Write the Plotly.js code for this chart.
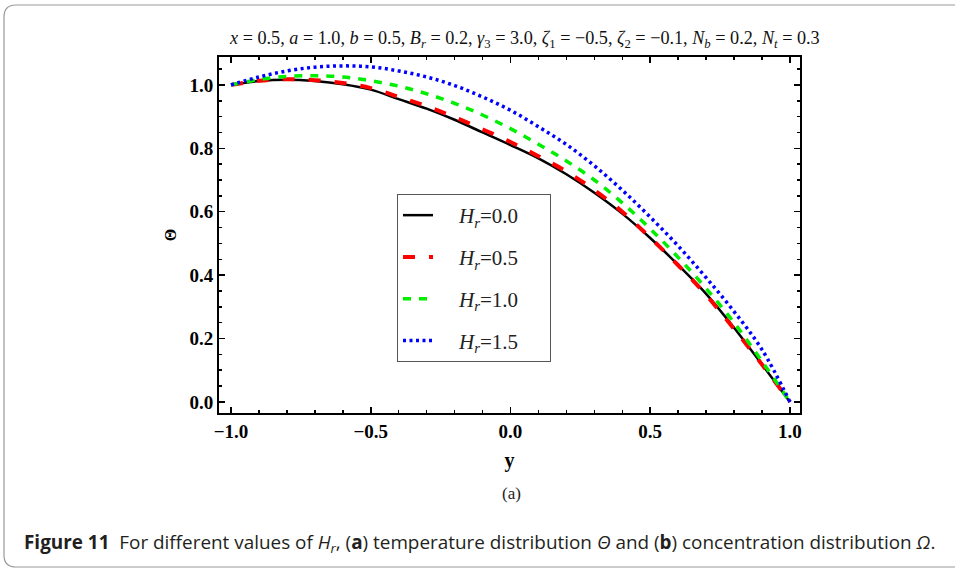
<!DOCTYPE html>
<html><head><meta charset="utf-8">
<script src="https://cdn.plot.ly/plotly-3.0.1.min.js"></script>
<style>html,body{margin:0;padding:0;background:#fff}#chart{width:955px;height:574px}</style>
</head><body><div id="chart"></div>
<script>
// y positions across the channel
const yVals = [-1.0,-0.9,-0.8,-0.7,-0.6,-0.5,-0.4,-0.3,-0.2,-0.1,0.0,0.1,0.2,0.3,0.4,0.5,0.6,0.7,0.8,0.9,1.0];
// temperature Θ for each H_r
const thetaHr00 = [1.000,1.012,1.016,1.012,1.002,0.985,0.955,0.925,0.890,0.850,0.810,0.768,0.718,0.660,0.594,0.517,0.432,0.341,0.234,0.118,0.000];
const thetaHr05 = [1.000,1.013,1.018,1.015,1.006,0.990,0.962,0.933,0.898,0.860,0.820,0.775,0.727,0.668,0.600,0.518,0.431,0.337,0.230,0.118,0.000];
const thetaHr10 = [1.000,1.017,1.027,1.029,1.025,1.013,0.996,0.972,0.942,0.905,0.862,0.813,0.760,0.700,0.628,0.546,0.456,0.358,0.250,0.128,0.000];
const thetaHr15 = [1.000,1.025,1.044,1.056,1.060,1.057,1.044,1.025,0.998,0.962,0.920,0.868,0.812,0.745,0.668,0.583,0.492,0.392,0.285,0.165,0.000];
const seriesNames = ['0.0','0.5','1.0','1.5'];
const xTicks = [-1.0,-0.5,0.0,0.5,1.0];
const yTicks = [0.0,0.2,0.4,0.6,0.8,1.0];

const serif = 'Liberation Serif, Times New Roman, serif';
const styles = [
  {color:'#000000', width:2.5, dash:'solid'},
  {color:'#ff0000', width:4, dash:'12px,14px'},
  {color:'#00ee00', width:3.5, dash:'8px,8px'},
  {color:'#0000ff', width:3.5, dash:'3px,3.5px'}
];
const allY = [thetaHr00, thetaHr05, thetaHr10, thetaHr15];
const nb = '\u00a0';
const traces = allY.map((v,i)=>({
  x: yVals, y: v, type:'scatter', mode:'lines',
  name: nb.repeat(4) + '<i>H</i><sub><i>r</i></sub>=' + seriesNames[i] + nb.repeat(5),
  legendgroup: 'g'+i,
  line: Object.assign({shape:'spline', smoothing:1}, styles[i])
}));

// plot area: left 219, right 800, top 57, bottom 413
const L=219, R=800, T=57, B=413, W=955, H=574;
const pw=R-L, ph=B-T;
const px = p => (p-L)/pw;
const py = p => (B-p)/ph;
const x0=px(4), x1=px(962), y0=py(567), y1=py(5);
const rx=12/pw, ry=12/ph;
const boxPath = `M ${x1},${y1} L ${x0+rx},${y1} Q ${x0},${y1} ${x0},${y1-ry} L ${x0},${y0+ry} Q ${x0},${y0} ${x0+rx},${y0} L ${x1},${y0}`;

const axisCommon = {
  showgrid:false, zeroline:false, showline:true, mirror:'allticks',
  linecolor:'#000', linewidth:2, ticks:'inside', ticklen:6, tickwidth:1.5, tickcolor:'#000',
  tickfont:{family:serif, size:19, color:'#000', weight:'bold'}
};

const layout = {
  width:W, height:H, paper_bgcolor:'#fff', plot_bgcolor:'#fff',
  margin:{l:L, r:W-R, t:T, b:H-B},
  showlegend:true,
  legend:{x:px(397), y:py(194), xanchor:'left', yanchor:'top', bgcolor:'#fff',
    bordercolor:'#555', borderwidth:1, tracegroupgap:11.5,
    font:{family:serif, size:21, color:'#222'}},
  xaxis: Object.assign({}, axisCommon, {
    range:[-1.043,1.036], tickvals:xTicks, ticktext:xTicks.map(v=>(v<0?'\u2212':'')+Math.abs(v).toFixed(1)),
    minor:{dtick:0.1, ticklen:3, tickcolor:'#000', ticks:'inside'},
    title:{text:'<b>y</b>', font:{family:serif, size:20, color:'#000'}, standoff:12}
  }),
  yaxis: Object.assign({}, axisCommon, {
    range:[-0.035,1.088], tickvals:yTicks, ticktext:yTicks.map(v=>v.toFixed(1)),
    minor:{dtick:0.05, ticklen:3, tickcolor:'#000', ticks:'inside'},
    title:{text:'<b>Θ</b>', font:{family:serif, size:16, color:'#000'}, standoff:9}
  }),
  shapes:[{type:'path', xref:'paper', yref:'paper', path:boxPath, line:{color:'#9a9a9a', width:1.2}, layer:'below'}],
  annotations:[
    {xref:'paper', yref:'paper', x:px(524), y:py(39), xanchor:'center', yanchor:'middle', showarrow:false,
     text:'<i>x</i> = 0.5, <i>a</i> = 1.0, <i>b</i> = 0.5, <i>B</i><sub><i>r</i></sub> = 0.2, <i>γ</i><sub>3</sub> = 3.0, <i>ζ</i><sub>1</sub> = −0.5, <i>ζ</i><sub>2</sub> = −0.1, <i>N</i><sub><i>b</i></sub> = 0.2, <i>N</i><sub><i>t</i></sub> = 0.3',
     font:{family:serif, size:18.2, color:'#111'}},
    {xref:'paper', yref:'paper', x:px(511), y:py(493), xanchor:'center', yanchor:'middle', showarrow:false,
     text:'(a)', font:{family:serif, size:17, color:'#222'}},
    {xref:'paper', yref:'paper', x:px(22), y:py(543), xanchor:'left', yanchor:'middle', showarrow:false,
     text:'<b>Figure 11</b>  For different values of <i>H</i><sub><i>r</i></sub>, (<b>a</b>) temperature distribution <i>Θ</i> and (<b>b</b>) concentration distribution <i>Ω</i>.',
     font:{family:'Open Sans, Noto Sans, sans-serif', size:18.9, color:'#231f20'}}
  ]
};

Plotly.newPlot('chart', traces, layout, {displayModeBar:false, staticPlot:true});
</script>
</body></html>
